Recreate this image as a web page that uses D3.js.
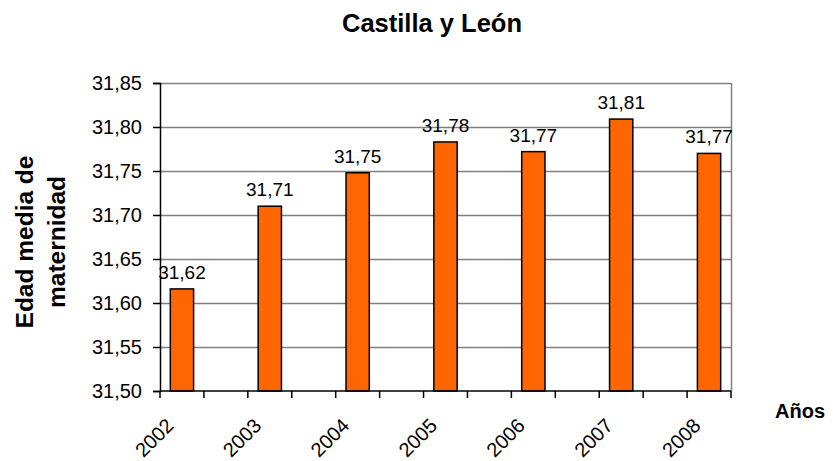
<!DOCTYPE html>
<html>
<head>
<meta charset="utf-8">
<script src="https://cdn.jsdelivr.net/npm/d3@7"></script>
<style>
  body { margin: 0; background: #fff; }
  svg { display: block; font-family: Arial, "Liberation Sans", sans-serif; }
</style>
</head>
<body>
<div id="chart"></div>
<script>
// Edad media de maternidad, Castilla y León
const years = ['2002', '2003', '2004', '2005', '2006', '2007', '2008'];
const edadMedia = [31.616, 31.710, 31.748, 31.783, 31.772, 31.809, 31.770];
const yTicks = [31.50, 31.55, 31.60, 31.65, 31.70, 31.75, 31.80, 31.85];

const width = 833, height = 461;
const margin = { top: 83, right: 102, bottom: 70, left: 160 };

const es = d3.formatLocale({ decimal: ',', thousands: '.', grouping: [3], currency: ['', ' €'] });
const fmt = es.format('.2f');

const svg = d3.select('#chart').append('svg')
  .attr('width', width)
  .attr('height', height);

// the sheet leaves an empty category between every year
const slots = years.flatMap((y, i) => i < years.length - 1 ? [y, y + '_gap'] : [y]);

const x = d3.scaleBand()
  .domain(slots)
  .range([margin.left, width - margin.right])
  .paddingInner(0)
  .paddingOuter(0);

const y = d3.scaleLinear()
  .domain([31.50, 31.85])
  .range([height - margin.bottom, margin.top]);

const x0 = margin.left, x1 = width - margin.right;
const y0 = y(31.50), y1 = y(31.85);

// gridlines
svg.append('g')
  .selectAll('line')
  .data(yTicks.slice(1))
  .join('line')
  .attr('x1', x0).attr('x2', x1)
  .attr('y1', d => Math.round(y(d)) + 0.5)
  .attr('y2', d => Math.round(y(d)) + 0.5)
  .attr('stroke', '#808080')
  .attr('stroke-width', 1.5);

// right border
svg.append('line')
  .attr('x1', x1 + 0.5).attr('x2', x1 + 0.5)
  .attr('y1', y1).attr('y2', y0)
  .attr('stroke', '#808080')
  .attr('stroke-width', 1.5);

// bars
const bw = x.step() * 0.53;
svg.append('g')
  .selectAll('rect')
  .data(years)
  .join('rect')
  .attr('x', d => x(d) + (x.step() - bw) / 2)
  .attr('y', (d, i) => y(edadMedia[i]))
  .attr('width', bw)
  .attr('height', (d, i) => y0 - y(edadMedia[i]))
  .attr('fill', '#FF6600')
  .attr('stroke', '#000')
  .attr('stroke-width', 1.5);

// value labels
svg.append('g')
  .selectAll('text')
  .data(years)
  .join('text')
  .attr('x', d => x(d) + x.step() / 2)
  .attr('y', (d, i) => y(edadMedia[i]) - 10)
  .attr('text-anchor', 'middle')
  .attr('font-size', 19)
  .attr('fill', '#000')
  .text((d, i) => fmt(edadMedia[i]));

// y axis
const yAxis = svg.append('g')
  .attr('transform', `translate(${x0},0)`)
  .call(d3.axisLeft(y).tickValues(yTicks).tickFormat(fmt).tickSize(7).tickPadding(11));
yAxis.select('.domain').attr('stroke', '#000').attr('stroke-width', 1.5);
yAxis.selectAll('.tick line').attr('stroke', '#000').attr('stroke-width', 1.5);
yAxis.selectAll('.tick text')
  .attr('font-size', 20)
  .attr('font-family', 'Arial, "Liberation Sans", sans-serif')
  .attr('fill', '#000');

// x axis: ticks on every slot boundary
const bounds = d3.range(slots.length + 1).map(i => x0 + i * x.step());
svg.append('line')
  .attr('x1', x0).attr('x2', x1)
  .attr('y1', y0).attr('y2', y0)
  .attr('stroke', '#000')
  .attr('stroke-width', 1.5);
svg.append('g')
  .selectAll('line')
  .data(bounds)
  .join('line')
  .attr('x1', d => d).attr('x2', d => d)
  .attr('y1', y0).attr('y2', y0 + 7)
  .attr('stroke', '#000')
  .attr('stroke-width', 1.5);

svg.append('g')
  .selectAll('text')
  .data(years)
  .join('text')
  .attr('transform', d => `translate(${x(d) + x.step() / 2 - 17},${y0 + 26}) rotate(-45)`)
  .attr('text-anchor', 'end')
  .attr('dy', '0.7em')
  .attr('font-size', 20)
  .attr('fill', '#000')
  .text(d => d);

// titles
svg.append('text')
  .attr('x', 432)
  .attr('y', 32)
  .attr('text-anchor', 'middle')
  .attr('font-size', 25.5)
  .attr('font-weight', 'bold')
  .text('Castilla y León');

svg.append('text')
  .attr('x', 800)
  .attr('y', 418)
  .attr('text-anchor', 'middle')
  .attr('font-size', 20)
  .attr('font-weight', 'bold')
  .text('Años');

const yTitle = svg.append('text')
  .attr('transform', 'translate(0,242) rotate(-90)')
  .attr('text-anchor', 'middle')
  .attr('font-size', 24.5)
  .attr('font-weight', 'bold');
yTitle.append('tspan').attr('x', 0).attr('y', 33).text('Edad media de');
yTitle.append('tspan').attr('x', 0).attr('y', 65).text('maternidad');
</script>
</body>
</html>
